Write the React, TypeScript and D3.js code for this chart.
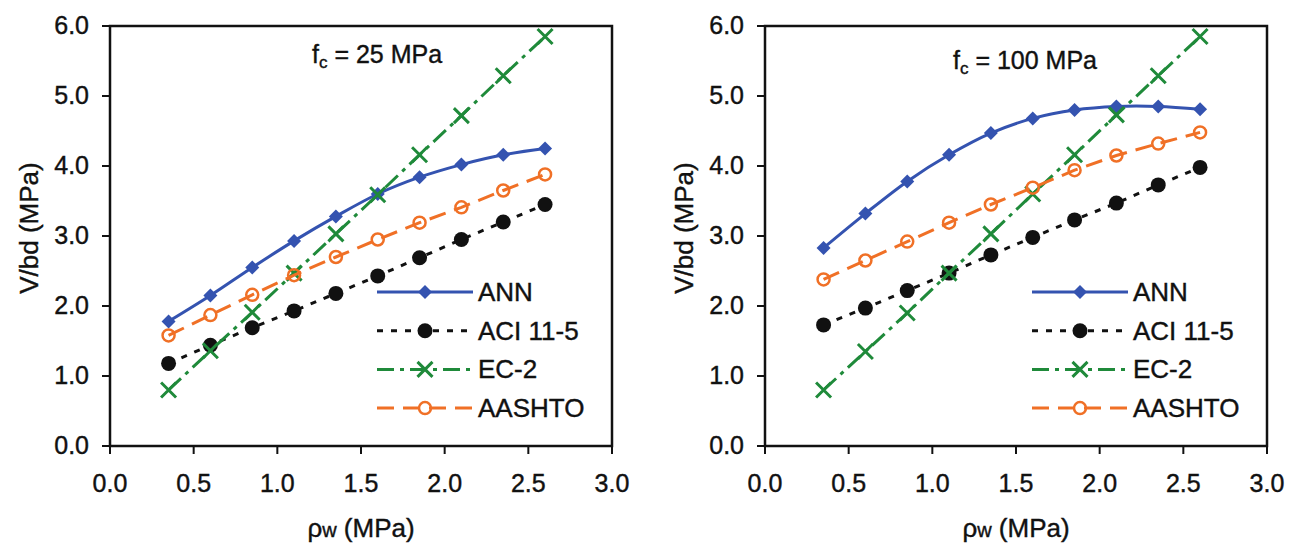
import * as d3 from "d3";
import React from "react";

// reinforcement ratio (x values) shared by all series
const rhoW = [0.35, 0.6, 0.85, 1.1, 1.35, 1.6, 1.85, 2.1, 2.35, 2.6];

// fc = 25 MPa
const ann25 = [1.78, 2.15, 2.55, 2.93, 3.28, 3.6, 3.84, 4.02, 4.16, 4.25];
const aci25 = [1.18, 1.44, 1.69, 1.93, 2.18, 2.43, 2.69, 2.95, 3.2, 3.45];
const ec25 = [0.8, 1.36, 1.91, 2.47, 3.03, 3.59, 4.16, 4.72, 5.29, 5.85];
const aashto25 = [1.58, 1.87, 2.16, 2.44, 2.7, 2.95, 3.19, 3.41, 3.65, 3.88];

// fc = 100 MPa
const ann100 = [2.83, 3.32, 3.78, 4.16, 4.47, 4.68, 4.8, 4.85, 4.85, 4.81];
const aci100 = [1.73, 1.97, 2.22, 2.47, 2.73, 2.98, 3.23, 3.47, 3.73, 3.98];
const ec100 = [0.8, 1.35, 1.9, 2.47, 3.03, 3.6, 4.16, 4.73, 5.29, 5.85];
const aashto100 = [2.38, 2.65, 2.92, 3.19, 3.45, 3.69, 3.94, 4.15, 4.32, 4.48];

const seriesNames = ["ANN", "ACI 11-5", "EC-2", "AASHTO"];
const xTicks = [0, 0.5, 1, 1.5, 2, 2.5, 3];
const yTicks = [0, 1, 2, 3, 4, 5, 6];

const FONT = "'Liberation Sans', Arial, sans-serif";
const FS = 25;

const styles = [
  { color: "#3453b0", dash: null, marker: "diamond", smooth: true },
  { color: "#111111", dash: "6 8", marker: "dot", smooth: false },
  { color: "#1f8a3a", dash: "17 6 4 6", marker: "cross", smooth: false },
  { color: "#f07026", dash: "17 9", marker: "ring", smooth: false },
];

const Marker = ({ kind, color, x, y }) => {
  if (kind === "diamond")
    return <path d="M0,-7L7,0L0,7L-7,0Z" transform={`translate(${x},${y})`} fill={color} />;
  if (kind === "dot") return <circle cx={x} cy={y} r={7.5} fill={color} />;
  if (kind === "cross")
    return (
      <path
        d="M-7.5,-7.5L7.5,7.5M-7.5,7.5L7.5,-7.5"
        transform={`translate(${x},${y})`}
        stroke={color}
        strokeWidth={3}
        fill="none"
      />
    );
  return <circle cx={x} cy={y} r={6} fill="none" stroke={color} strokeWidth={2.5} />;
};

const Panel = ({ left, series, fcText, annoX, annoY }) => {
  const x = d3.scaleLinear().domain([0, 3]).range([left, left + 502]);
  const y = d3.scaleLinear().domain([0, 6]).range([446, 26]);
  const top = y(6);
  const bottom = y(0);

  return (
    <g fontFamily={FONT} fill="#111">
      {/* series */}
      {series.map((vals, i) => {
        const s = styles[i];
        const line = d3
          .line<number>()
          .x((_, j) => x(rhoW[j]))
          .y((v) => y(v))
          .curve(s.smooth ? d3.curveCatmullRom.alpha(0.5) : d3.curveLinear);
        return (
          <g key={i}>
            <path
              d={line(vals) || ""}
              fill="none"
              stroke={s.color}
              strokeWidth={3}
              strokeDasharray={s.dash || undefined}
            />
            {vals.map((v, j) => (
              <Marker key={j} kind={s.marker} color={s.color} x={x(rhoW[j])} y={y(v)} />
            ))}
          </g>
        );
      })}

      {/* frame */}
      <rect
        x={x(0)}
        y={top}
        width={x(3) - x(0)}
        height={bottom - top}
        fill="none"
        stroke="#111"
        strokeWidth={2.5}
      />

      <g stroke="#111" strokeWidth={0.4}>
        {/* x axis */}
        {xTicks.map((t) => (
          <g key={t}>
            <line x1={x(t)} x2={x(t)} y1={bottom} y2={bottom + 8} strokeWidth={2} />
            <text x={x(t)} y={492} textAnchor="middle" fontSize={FS}>
              {t.toFixed(1)}
            </text>
          </g>
        ))}

        {/* y axis */}
        {yTicks.map((t) => (
          <g key={t}>
            <line x1={x(0) - 8} x2={x(0)} y1={y(t)} y2={y(t)} strokeWidth={2} />
            <text x={x(0) - 21} y={y(t) + 8} textAnchor="end" fontSize={FS}>
              {t.toFixed(1)}
            </text>
          </g>
        ))}

        {/* axis titles */}
        <text x={x(1.5)} y={537} textAnchor="middle" fontSize={FS + 1}>
          ρ<tspan fontSize={20}>w</tspan> (MPa)
        </text>
        <text
          transform={`translate(${left - 72},${228}) rotate(-90)`}
          textAnchor="middle"
          fontSize={FS + 1}
        >
          V/bd (MPa)
        </text>

        {/* annotation */}
        <text x={annoX} y={annoY} fontSize={FS}>
          f<tspan fontSize={17} dy={5}>c</tspan>
          <tspan dy={-5}> = {fcText} MPa</tspan>
        </text>
      </g>

      {/* legend */}
      {seriesNames.map((name, i) => {
        const s = styles[i];
        const ly = 292 + i * 38.7;
        const lx0 = left + 267;
        const lx1 = left + 363;
        return (
          <g key={name}>
            <line
              x1={lx0}
              x2={lx1}
              y1={ly}
              y2={ly}
              stroke={s.color}
              strokeWidth={3}
              strokeDasharray={s.dash || undefined}
            />
            <Marker kind={s.marker} color={s.color} x={(lx0 + lx1) / 2} y={ly} />
            <text x={left + 368} y={ly + 9} fontSize={FS + 1} stroke="#111" strokeWidth={0.4}>
              {name}
            </text>
          </g>
        );
      })}
    </g>
  );
};

const App = () => {
  return (
    <svg
      width={1289}
      height={543}
      style={{ position: "absolute", left: 0, top: 0, background: "#fff" }}
    >
      <Panel left={110} series={[ann25, aci25, ec25, aashto25]} fcText="25" annoX={312} annoY={63} />
      <Panel
        left={765}
        series={[ann100, aci100, ec100, aashto100]}
        fcText="100"
        annoX={953}
        annoY={69}
      />
    </svg>
  );
};

export default App;
